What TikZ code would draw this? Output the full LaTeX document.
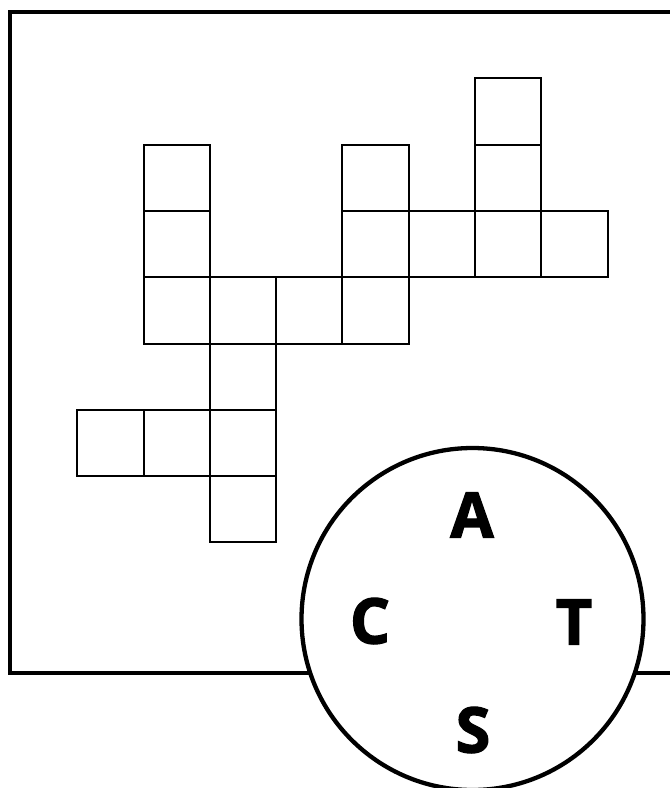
\documentclass[tikz,border=0pt]{standalone}
\usepackage{fontspec}
\newfontfamily\letterfont{Open Sans Bold}[FakeBold=2]
\tikzset{
  cell/.style={draw=black, line width=2pt, minimum size=66.3pt, inner sep=0pt, anchor=north west},
  frame/.style={draw=black, line width=4pt},
  letter/.style={font=\letterfont\fontsize{63}{63}\selectfont, inner sep=0pt}
}
\begin{document}
\begin{tikzpicture}[x=1pt,y=-1pt]
\useasboundingbox (0,0) rectangle (670,788);
\begin{scope}
\clip (0,0) rectangle (670,788);
\draw[frame] (10.3,11.8) rectangle (672,672.5);
\end{scope}
% grid cells: column c, row r at (76.2+66.3c, 77.3+66.3r)
\foreach \c/\r [count=\i] in {6/0, 1/1,4/1,6/1, 1/2,4/2,5/2,6/2,7/2, 1/3,2/3,3/3,4/3, 2/4, 0/5,1/5,2/5, 2/6}{
  \node[cell] (cell\i) at ({76.2+66.3*\c},{77.3+66.3*\r}) {};
}
\begin{scope}
\clip (0,0) rectangle (670,788);
\node[circle, draw=black, fill=white, line width=4.3pt, minimum size=342pt, inner sep=0pt] (wheel) at (472.5,619) {};
\end{scope}
\node[letter] (A) at (472,515) {A};
\node[letter] (C) at (370,621) {C};
\node[letter] (T) at (574,622) {T};
\node[letter] (S) at (473,730) {S};
\end{tikzpicture}
\end{document}
